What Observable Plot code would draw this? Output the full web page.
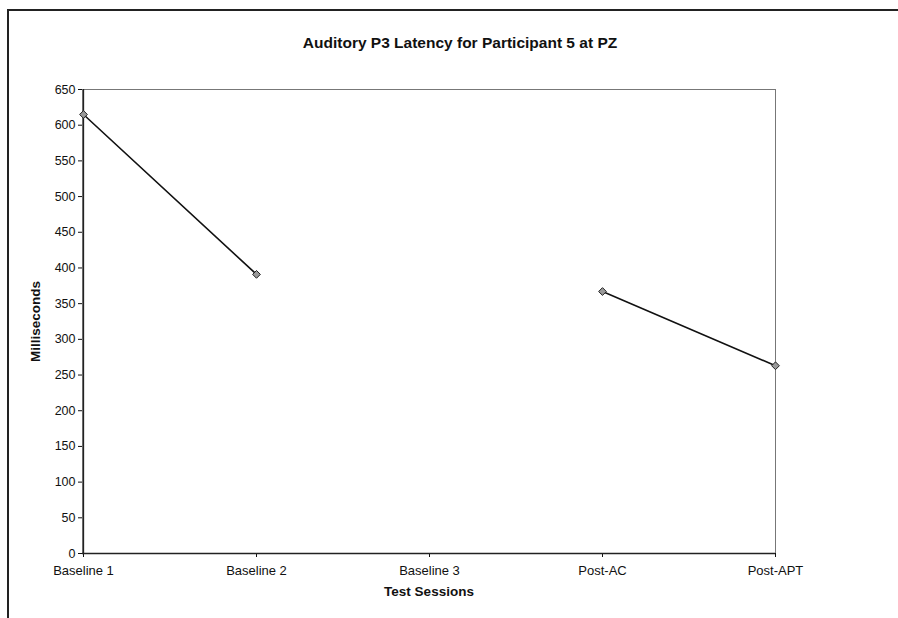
<!DOCTYPE html>
<html>
<head>
<meta charset="utf-8">
<script src="https://cdn.jsdelivr.net/npm/d3@7"></script>
<script src="https://cdn.jsdelivr.net/npm/@observablehq/plot@0.6"></script>
<style>
  html, body { margin: 0; padding: 0; background: #fff; }
  #wrap { position: relative; width: 898px; height: 618px; overflow: hidden; font-family: "Liberation Sans", Arial, sans-serif; }
  #border { position: absolute; left: 7px; top: 9px; width: 900px; height: 620px; border-left: 2px solid #222; border-top: 2px solid #222; pointer-events: none; }
  #title { position: relative; height: 60px; }
  #title span { position: absolute; left: 22px; right: 0; top: 34px; line-height: 18px; text-align: center; font-weight: bold; font-size: 15.5px; color: #111; }
  svg { display: block; }
</style>
</head>
<body>
<div id="wrap">
  <div id="title"><span>Auditory P3 Latency for Participant 5 at PZ</span></div>
  <div id="chart"></div>
  <div id="border"></div>
</div>
<script>
const sessions = ["Baseline 1", "Baseline 2", "Baseline 3", "Post-AC", "Post-APT"];
const latency = [615, 391, null, 367, 263];
const yTicks = [0, 50, 100, 150, 200, 250, 300, 350, 400, 450, 500, 550, 600, 650];
const xLabel = "Test Sessions";
const yLabel = "Milliseconds";

const data = sessions.map((s, i) => ({session: s, value: latency[i]}));
const points = data.filter(d => d.value != null);

const chart = Plot.plot({
  width: 898,
  height: 558,
  marginLeft: 82,
  marginRight: 123,
  marginTop: 29,
  marginBottom: 65,
  style: {fontFamily: "Liberation Sans, Arial, sans-serif", fontSize: "13px", color: "#111", background: "#fff"},
  x: {type: "point", domain: sessions, padding: 0},
  y: {domain: [0, 650]},
  marks: [
    Plot.frame({stroke: "#777"}),
    Plot.axisY({ticks: yTicks, tickSize: 4, tickPadding: 3, label: null, fontSize: 12.5}),
    Plot.axisX({tickSize: 4, tickPadding: 8, label: null}),
    Plot.ruleY([0], {stroke: "#222", strokeWidth: 1.3}),
    Plot.ruleX([sessions[0]], {stroke: "#222", strokeWidth: 1.3}),
    Plot.line(data, {x: "session", y: "value", stroke: "#111", strokeWidth: 1.6}),
    Plot.dot(points, {x: "session", y: "value", symbol: "diamond2", r: 3.5, fill: "#999", stroke: "#222", strokeWidth: 1}),
    Plot.text([xLabel], {frameAnchor: "bottom", dy: 42, fontWeight: "bold", fontSize: 13.5, fill: "#111"}),
    Plot.text([yLabel], {frameAnchor: "left", textAnchor: "middle", dx: -47, rotate: -90, fontWeight: "bold", fontSize: 13.5, fill: "#111"})
  ]
});
document.getElementById("chart").appendChild(chart);
</script>
</body>
</html>
